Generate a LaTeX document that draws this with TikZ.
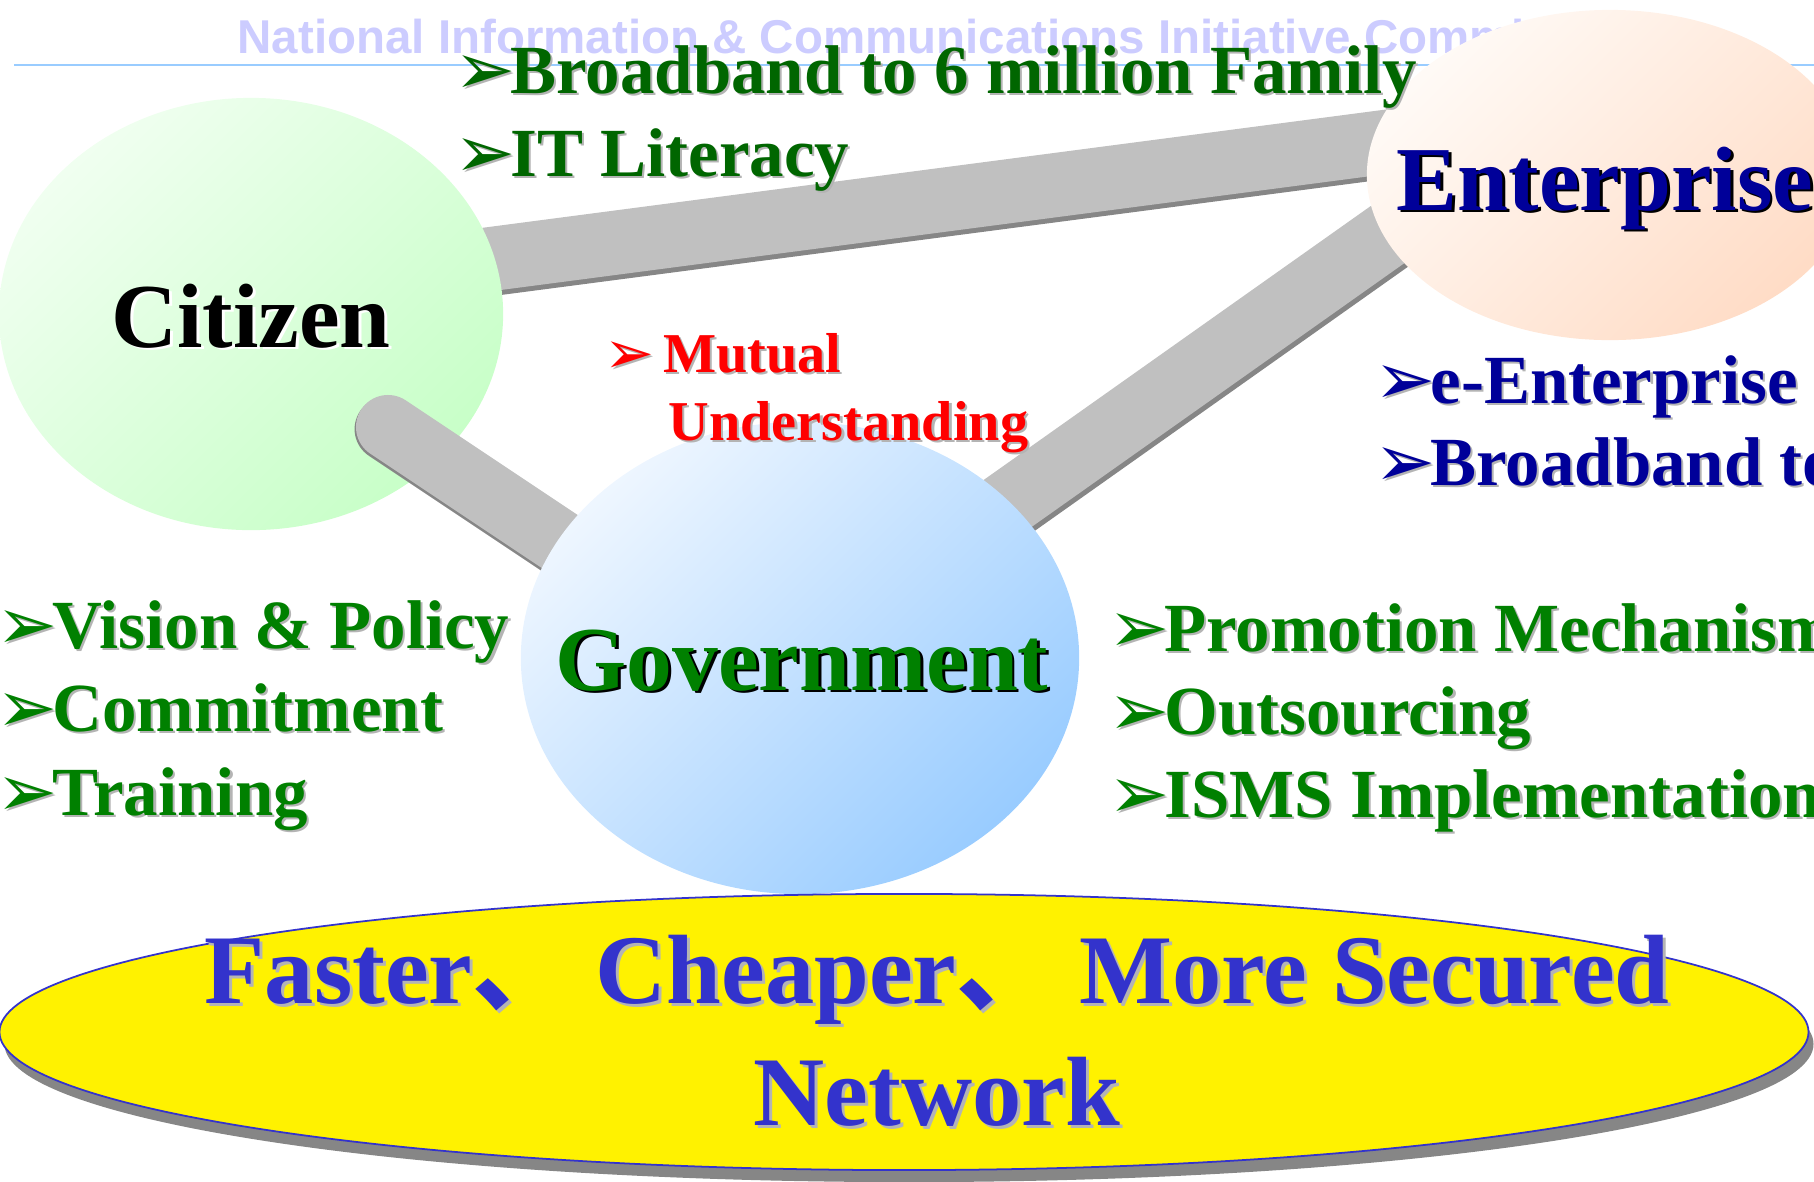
\documentclass[tikz,border=0pt]{standalone}
\usepackage{fontspec}
\usepackage{graphicx}
\setmainfont{Liberation Serif}
\newfontfamily\headfont{Liberation Sans}
\newfontfamily\symfont{DejaVu Sans}
\newfontfamily\cjk{Noto Sans CJK SC}
\usetikzlibrary{shapes.geometric, shadows, positioning}

\definecolor{titleblue}{HTML}{CCCCFF}
\definecolor{rulerblue}{HTML}{99CCFF}
\definecolor{bargray}{HTML}{C0C0C0}
\definecolor{barshade}{HTML}{868686}
\definecolor{citA}{HTML}{F0FFF0}
\definecolor{citB}{HTML}{C8FFC8}
\definecolor{govA}{HTML}{EEF6FF}
\definecolor{govB}{HTML}{99CCFF}
\definecolor{entA}{HTML}{FFFAF6}
\definecolor{entB}{HTML}{FFDCC6}
\definecolor{dkgreen}{HTML}{006600}
\definecolor{midgreen}{HTML}{008000}
\definecolor{navy}{HTML}{000099}
\definecolor{netblue}{HTML}{3333CC}
\definecolor{txtshade}{HTML}{B4B4B4}

% text with a shadow copy, offset down-right
\newcommand{\shd}[3]{\rlap{\kern#2\raisebox{-#2}{\color{#1}#3}}#3}
\newcommand{\bul}{\kern-2.6pt\raisebox{-0.02em}{\scalebox{1.06}{\symfont ➢}}\kern-1.5pt}
\newcommand{\itm}[1]{\shd{txtshade}{0.6pt}{\bul #1}}

\tikzstyle{party} = [ellipse, 
inner sep=0pt]
\tikzstyle{bigtext} = [anchor=base, 
inner sep=0pt, 
font=\bfseries\fontsize{26}{30}\selectfont]
\tikzstyle{bar} = [line width=0.64cm, draw=bargray]
\tikzstyle{barshadow} = [line width=0.64cm, draw=barshade]
\tikzstyle{item} = [anchor=base west, 
inner sep=0pt, 
font=\bfseries\fontsize{19.6}{23}\selectfont]

\begin{document}
\begin{tikzpicture}[x=0.01cm, y=-0.01cm]
		\useasboundingbox (0,0) rectangle (1814,1181);
		\clip (0,0) rectangle (1814,1181);

		% header
		\node (title) [anchor=base west, inner sep=0pt, text=titleblue, font=\headfont\bfseries\fontsize{13.5}{16}\selectfont] at (237,53) {National Information \& Communications Initiative Committee};
		\coordinate (ruleL) at (14,65);
		\coordinate (ruleR) at (1814,65);
		\draw [rulerblue, line width=0.6pt] (ruleL) -- (ruleR);

		% bar ends
		\coordinate (ce1) at (300,284);
		\coordinate (ce2) at (1560,119);
		\coordinate (eg1) at (850,615);
		\coordinate (eg2) at (1500,155);
		\coordinate (cg1) at (388,427);
		\coordinate (cg2) at (640,595);

		\draw [barshadow] ([yshift=-0.05cm]ce1) -- ([yshift=-0.05cm]ce2);
		\draw [bar] (ce1) -- (ce2);
		\draw [barshadow, line width=0.66cm] ([shift={(2.9,4.1)}]eg1) -- ([shift={(2.9,4.1)}]eg2);
		\draw [bar, line width=0.66cm] (eg1) -- (eg2);

		\node (citizen) [party, minimum width=5.04cm, minimum height=4.32cm, top color=citA, bottom color=citB, shading angle=45] at (251,314) {};

		\draw [barshadow, line cap=round] ([shift={(-1.4,2.1)}]cg1) -- ([shift={(-1.4,2.1)}]cg2);
		\draw [bar, line cap=round] (cg1) -- (cg2);

		\node (gov) [party, minimum width=5.58cm, minimum height=4.72cm, top color=govA, bottom color=govB, shading angle=45] at (800,658) {};
		\node (ent) [party, minimum width=4.86cm, minimum height=3.30cm, top color=entA, bottom color=entB, shading angle=45] at (1610,175) {};

		\node (citlabel) [bigtext, yshift=-0.33cm] at (citizen) {\shd{white}{0.8pt}{Citizen}};
		\node (govlabel) [bigtext, text=midgreen, xshift=0.02cm, yshift=-0.32cm] at (gov) {\shd{black}{0.8pt}{Government}};
		\node (entlabel) [bigtext, text=navy, xshift=-0.05cm, yshift=-0.35cm] at (ent) {\shd{black}{0.8pt}{Enterprise}};

		% network base
		\node (network) [party, minimum width=18.08cm, minimum height=2.76cm, fill=yellow, draw=netblue, line width=0.5pt, drop shadow={shadow xshift=0.05cm, shadow yshift=-0.12cm, fill=barshade, opacity=1}] at (904,1032) {};
		\node (slogan1) [bigtext, text=netblue, font=\bfseries\fontsize{28}{34}\selectfont, xshift=0.33cm, yshift=0.28cm] at (network) {\shd{txtshade}{0.85pt}{Faster{\cjk 、} Cheaper{\cjk 、} More Secured}};
		\node (slogan2) [bigtext, text=netblue, font=\bfseries\fontsize{28}{34}\selectfont, yshift=-1.21cm] at (slogan1.base) {\shd{txtshade}{0.85pt}{Network}};

		% citizen goals
		\node (bband6) [item, text=dkgreen] at (463,93) {\itm{Broadband to 6 million Family}};
		\node (itlit) [item, text=dkgreen, yshift=-0.83cm] at (bband6.base west) {\itm{IT Literacy}};

		% mutual
		\node (mutual) [item, text=red, font=\bfseries\fontsize{16}{19}\selectfont] at (613,372) {\itm{\ Mutual}};
		\node (underst) [item, text=red, font=\bfseries\fontsize{16}{19}\selectfont, xshift=0.55cm, yshift=-0.68cm] at (mutual.base west) {\shd{txtshade}{0.6pt}{Understanding}};

		% enterprise goals
		\node (eent) [item, text=navy] at (1383,403) {\itm{e-Enterprise}};
		\node (bbandt) [item, text=navy, yshift=-0.82cm] at (eent.base west) {\itm{Broadband to}};

		% government goals
		\node (vision) [item, text=midgreen] at (5,648) {\itm{Vision \& Policy}};
		\node (commit) [item, text=midgreen, yshift=-0.83cm] at (vision.base west) {\itm{Commitment}};
		\node (train) [item, text=midgreen, yshift=-0.84cm] at (commit.base west) {\itm{Training}};

		\node (promo) [item, text=midgreen] at (1117,651) {\itm{Promotion Mechanism}};
		\node (outs) [item, text=midgreen, yshift=-0.83cm] at (promo.base west) {\itm{Outsourcing}};
		\node (isms) [item, text=midgreen, yshift=-0.83cm] at (outs.base west) {\itm{ISMS Implementation}};
	\end{tikzpicture}
\end{document}
